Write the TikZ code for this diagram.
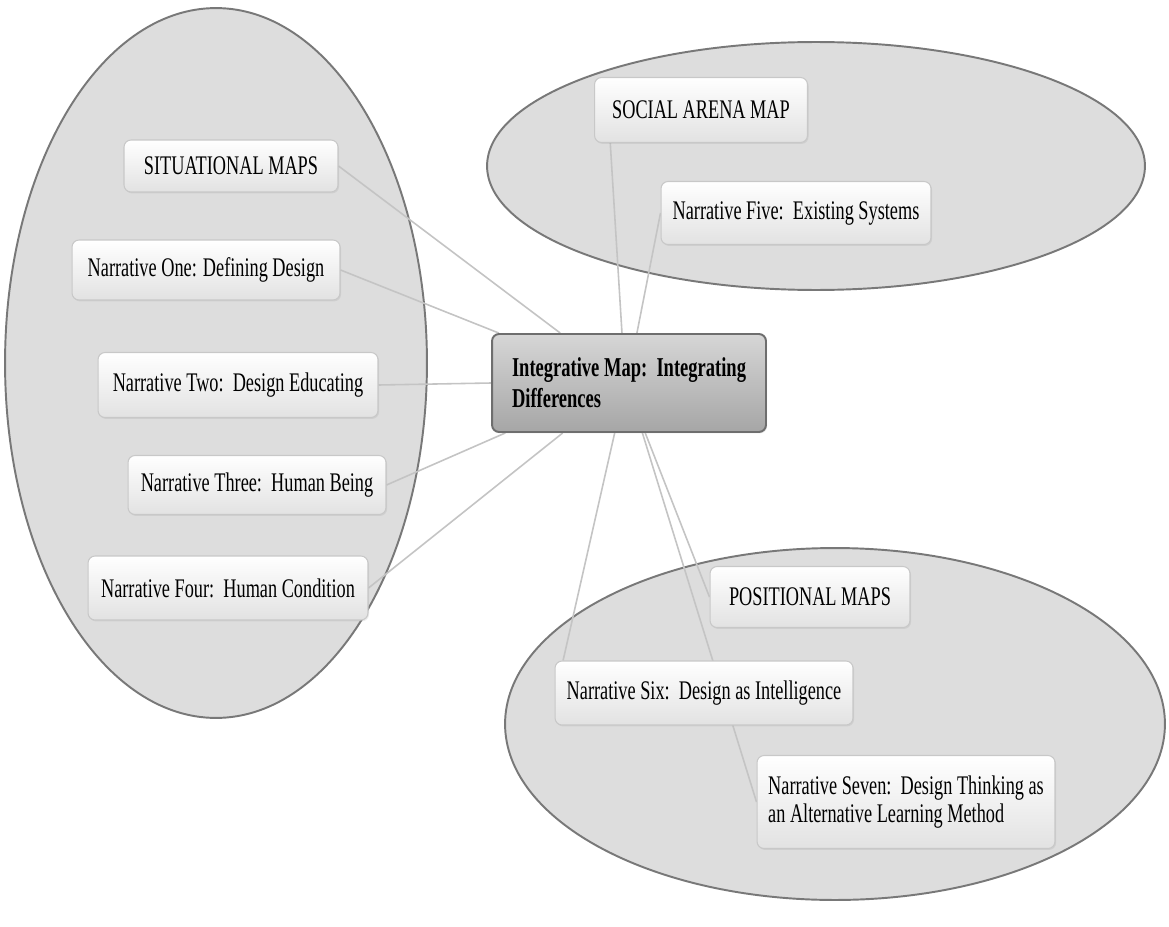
\documentclass[tikz,border=0pt]{standalone}
\usepackage{fontspec}
\setmainfont[FakeStretch=0.68]{Liberation Serif}
\usetikzlibrary{shadows}
\definecolor{zonefill}{RGB}{221,221,221}
\definecolor{zonerim}{RGB}{120,120,120}
\definecolor{leafrim}{RGB}{200,200,200}
\definecolor{leaflow}{RGB}{226,226,226}
\definecolor{hubtop}{RGB}{214,214,214}
\definecolor{hublow}{RGB}{166,166,166}
\definecolor{hubrim}{RGB}{110,110,110}
\definecolor{wire}{RGB}{196,196,196}
\pgfdeclarelayer{back}
\pgfdeclarelayer{wires}
\pgfsetlayers{back,wires,main}
\begin{document}
\begin{tikzpicture}[x=0.02cm,y=-0.02cm,
    zone/.style={fill=zonefill,draw=zonerim,line width=1.1pt},
    leaf/.style={rectangle,rounded corners=4pt,draw=leafrim,line width=0.6pt,
      top color=white,bottom color=leaflow,inner sep=0pt,align=left,
      font=\fontsize{15.3}{15.5}\selectfont,
      drop shadow={opacity=0.15,shadow xshift=0.6pt,shadow yshift=-0.8pt}},
    hub/.style={leaf,draw=hubrim,line width=1.1pt,top color=hubtop,bottom color=hublow,
      font=\fontsize{15.5}{17.5}\selectfont\bfseries},
    link/.style={draw=wire,line width=0.9pt}]
  \useasboundingbox (0,0) rectangle (1169,926);
  % the three map regions
  \begin{pgfonlayer}{back}
    \fill[white] (0,0) rectangle (1169,926);
    \draw[zone] (216,363) ellipse [x radius=4.22cm,y radius=7.1cm];
    \draw[zone] (816,166) ellipse [x radius=6.58cm,y radius=2.48cm];
    \draw[zone] (835,724) ellipse [x radius=6.6cm,y radius=3.52cm];
  \end{pgfonlayer}
  \node[hub,minimum width=5.48cm,minimum height=1.96cm] (hub) at (629,383)
    {Integrative Map:\ \ Integrating\\Differences};
  % situational maps
  \begin{scope}[every node/.style={leaf}]
    \node[minimum width=4.28cm,minimum height=1.04cm] (sit) at (231,166) {SITUATIONAL MAPS};
    \node[minimum width=5.36cm,minimum height=1.2cm] (one) at (206,270) {Narrative One: Defining Design};
    \node[minimum width=5.6cm,minimum height=1.3cm] (two) at (238,385) {Narrative Two:\ \ Design Educating};
    \node[minimum width=5.16cm,minimum height=1.18cm] (three) at (257,485) {Narrative Three:\ \ Human Being};
    \node[minimum width=5.6cm,minimum height=1.28cm] (four) at (228,588) {Narrative Four:\ \ Human Condition};
  % social arena
    \node[minimum width=4.26cm,minimum height=1.3cm] (social) at (701,110) {SOCIAL ARENA MAP};
    \node[minimum width=5.4cm,minimum height=1.26cm] (five) at (796,213) {Narrative Five:\ \ Existing Systems};
  % positional maps
    \node[minimum width=4.0cm,minimum height=1.22cm] (pos) at (810,597) {POSITIONAL MAPS};
    \node[minimum width=5.96cm,minimum height=1.28cm] (six) at (704,693) {Narrative Six:\ \ Design as Intelligence};
    \node[minimum width=5.96cm,minimum height=1.86cm] (seven) at (906,802)
      {Narrative Seven:\ \ Design Thinking as\\an Alternative Learning Method};
  \end{scope}
  \begin{pgfonlayer}{wires}
    \begin{scope}[every edge/.style={link}]
      \path (hub.144) edge (sit.east);
      \path (hub.159) edge (one.east);
      \path (hub.180) edge (two.east);
      \path (hub.202) edge (three.east);
      \path (hub.217) edge (four.east);
      \path (hub.98) edge (social.200);
      \path (hub.81) edge (five.west);
      \path (hub.254) edge (six.167);
      \path (hub.288) edge (pos.west);
      \path (hub.285) edge (seven.west);
    \end{scope}
  \end{pgfonlayer}
\end{tikzpicture}
\end{document}
